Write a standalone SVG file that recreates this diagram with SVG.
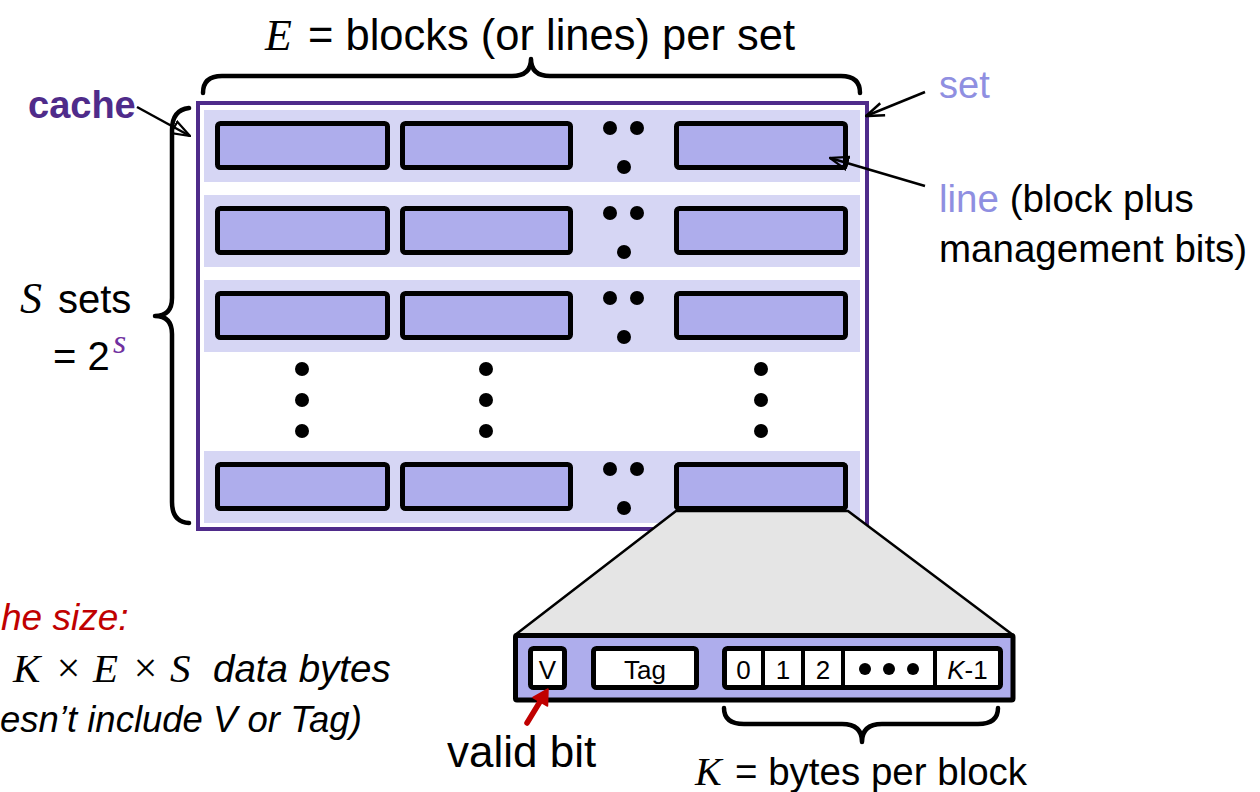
<svg xmlns="http://www.w3.org/2000/svg" width="1260" height="792" viewBox="0 0 1260 792">
<style>
  .sans { font-family: "Liberation Sans", Arial, sans-serif; }
  .math { font-family: "Liberation Serif", "Times New Roman", serif; font-style: italic; }
  .row { fill: #D6D6F4; }
  .ln { fill: #AEADEC; stroke: #000; stroke-width: 5; }
  .dot { fill: #000; }
  .brace { fill: none; stroke: #000; stroke-width: 4.5; stroke-linecap: round; stroke-linejoin: round; }
  .arr { fill: none; stroke: #000; stroke-width: 2.5; }
  .cell { fill: #fff; stroke: #000; stroke-width: 5; }
  .lav { fill: #8F8FE1; }
</style>
<defs>
  <marker id="tri" markerUnits="userSpaceOnUse" viewBox="0 0 20 16" refX="19" refY="8" markerWidth="20" markerHeight="16" orient="auto">
    <path d="M1,1.5 L19,8 L1,14.5 Z" fill="none" stroke="#000" stroke-width="2.2"/>
  </marker>
  <marker id="vee" markerUnits="userSpaceOnUse" viewBox="0 0 20 16" refX="19" refY="8" markerWidth="20" markerHeight="16" orient="auto">
    <path d="M1,1.5 L19,8 L1,14.5" fill="none" stroke="#000" stroke-width="2.5"/>
  </marker>
</defs>
<rect width="1260" height="792" fill="#fff"/>

<g id="cache">
  <rect x="198" y="103" width="669" height="426" fill="#fff" stroke="#4F2B8A" stroke-width="4"/>
  <g id="set1">
    <rect class="row" x="204" y="110" width="656" height="72"/>
    <rect class="ln" x="217.5" y="123.5" width="170" height="44" rx="3"/>
    <rect class="ln" x="402.5" y="123.5" width="168" height="44" rx="3"/>
    <rect class="ln" x="676.5" y="123.5" width="169" height="44" rx="3"/>
    <circle class="dot" cx="610" cy="128" r="7"/><circle class="dot" cx="637" cy="128" r="7"/><circle class="dot" cx="624" cy="167" r="7"/>
  </g>
  <g id="set2">
    <rect class="row" x="204" y="195" width="656" height="72"/>
    <rect class="ln" x="217.5" y="208.5" width="170" height="44" rx="3"/>
    <rect class="ln" x="402.5" y="208.5" width="168" height="44" rx="3"/>
    <rect class="ln" x="676.5" y="208.5" width="169" height="44" rx="3"/>
    <circle class="dot" cx="610" cy="213" r="7"/><circle class="dot" cx="637" cy="213" r="7"/><circle class="dot" cx="624" cy="252" r="7"/>
  </g>
  <g id="set3">
    <rect class="row" x="204" y="280" width="656" height="72"/>
    <rect class="ln" x="217.5" y="293.5" width="170" height="44" rx="3"/>
    <rect class="ln" x="402.5" y="293.5" width="168" height="44" rx="3"/>
    <rect class="ln" x="676.5" y="293.5" width="169" height="44" rx="3"/>
    <circle class="dot" cx="610" cy="298" r="7"/><circle class="dot" cx="637" cy="298" r="7"/><circle class="dot" cx="624" cy="337" r="7"/>
  </g>
  <g id="vdots">
    <circle class="dot" cx="302" cy="369" r="7"/><circle class="dot" cx="302" cy="400" r="7"/><circle class="dot" cx="302" cy="431" r="7"/>
    <circle class="dot" cx="486" cy="369" r="7"/><circle class="dot" cx="486" cy="400" r="7"/><circle class="dot" cx="486" cy="431" r="7"/>
    <circle class="dot" cx="761" cy="369" r="7"/><circle class="dot" cx="761" cy="400" r="7"/><circle class="dot" cx="761" cy="431" r="7"/>
  </g>
  <g id="setS">
    <rect class="row" x="204" y="451" width="656" height="72"/>
    <rect class="ln" x="217.5" y="464.5" width="170" height="44" rx="3"/>
    <rect class="ln" x="402.5" y="464.5" width="168" height="44" rx="3"/>
    <rect class="ln" x="676.5" y="464.5" width="169" height="44" rx="3"/>
    <circle class="dot" cx="610" cy="469" r="7"/><circle class="dot" cx="637" cy="469" r="7"/><circle class="dot" cx="624" cy="508" r="7"/>
  </g>
</g>

<g id="zoom">
  <polygon points="676,511 848,511 1013,635 515,635" fill="#E5E5E5" stroke="#000" stroke-width="2.5" stroke-linejoin="round"/>
  <rect class="ln" x="676.5" y="464.5" width="169" height="44" rx="3"/>
</g>

<g id="block">
  <rect x="515.5" y="635.5" width="497.5" height="64.5" fill="#AEADEC" stroke="#000" stroke-width="5" rx="1.5"/>
  <rect class="cell" x="530.5" y="648.5" width="34" height="39" rx="3"/>
  <rect class="cell" x="593.5" y="648.5" width="103" height="39" rx="3"/>
  <rect class="cell" x="724.5" y="648.5" width="276" height="39" rx="3"/>
  <g stroke="#000" stroke-width="4">
    <line x1="763" y1="648" x2="763" y2="688"/>
    <line x1="803" y1="648" x2="803" y2="688"/>
    <line x1="843" y1="648" x2="843" y2="688"/>
    <line x1="935" y1="648" x2="935" y2="688"/>
  </g>
  <g class="sans" font-size="26" text-anchor="middle">
    <text x="547.5" y="679">V</text>
    <text x="645" y="679">Tag</text>
    <text x="743.5" y="679">0</text>
    <text x="783" y="679">1</text>
    <text x="823" y="679">2</text>
    <text x="967.5" y="679"><tspan font-style="italic">K</tspan>-1</text>
  </g>
  <circle class="dot" cx="865" cy="669" r="6"/><circle class="dot" cx="889" cy="669" r="6"/><circle class="dot" cx="913" cy="669" r="6"/>
</g>

<g id="connectors">
  <path class="brace" d="M203,93 Q203,76 222,76 L512,76 Q531,76 531,59 Q531,76 550,76 L841,76 Q860,76 860,93"/>
  <path class="brace" d="M189,108 Q172,110 172,130 L172,298 Q172,316 155,316 Q172,316 172,334 L172,502 Q172,522 189,523"/>
  <path class="brace" d="M724,708 Q724,724 744,724 L842,724 Q862,724 862,742 Q862,724 882,724 L978,724 Q998,724 998,708"/>
  <line class="arr" x1="137" y1="107" x2="190" y2="136" marker-end="url(#tri)"/>
  <line class="arr" x1="925" y1="92" x2="866" y2="116" marker-end="url(#vee)"/>
  <line class="arr" x1="925" y1="186" x2="830" y2="158" marker-end="url(#tri)"/>
  <g id="valid-arrow" fill="#C00000" stroke="#C00000">
    <line x1="527" y1="723" x2="541" y2="700" stroke-width="5.5" stroke-linecap="round"/>
    <polygon points="548,689 547.5,706 533,697.5" stroke-width="1.5" stroke-linejoin="round"/>
  </g>
</g>

<g id="labels">
  <text class="math" x="265" y="50" font-size="44">E</text>
  <text class="sans" x="308" y="50" font-size="44" textLength="487" lengthAdjust="spacingAndGlyphs">= blocks (or lines) per set</text>
  <text class="sans" x="28" y="118" font-size="38" font-weight="bold" fill="#4F2B8A">cache</text>
  <text class="sans lav" x="939" y="98" font-size="38">set</text>
  <text class="sans" x="939" y="212" font-size="38.5"><tspan class="lav">line</tspan> (block plus</text>
  <text class="sans" x="939" y="262" font-size="38.5">management bits)</text>
  <text class="math" x="20" y="313" font-size="44">S</text>
  <text class="sans" x="58" y="313" font-size="40">sets</text>
  <text class="sans" x="53" y="370" font-size="40">= 2</text>
  <text class="math" x="113" y="353" font-size="34" fill="#7030A0">s</text>
  <text class="sans" x="1" y="630" font-size="37" font-style="italic" fill="#C00000">he size:</text>
  <text class="math" x="13" y="682" font-size="41">K</text>
  <text class="math" x="54" y="682" font-size="42" font-style="normal">×</text>
  <text class="math" x="93" y="682" font-size="41">E</text>
  <text class="math" x="131" y="682" font-size="42" font-style="normal">×</text>
  <text class="math" x="170" y="682" font-size="41">S</text>
  <text class="sans" x="213" y="682" font-size="38.5" font-style="italic">data bytes</text>
  <text class="sans" x="0" y="732" font-size="36.5" font-style="italic">esn’t include V or Tag)</text>
  <text class="sans" x="447" y="767" font-size="44">valid bit</text>
  <text class="math" x="695" y="785" font-size="40">K</text>
  <text class="sans" x="735" y="785" font-size="38.5">= bytes per block</text>
</g>
</svg>
